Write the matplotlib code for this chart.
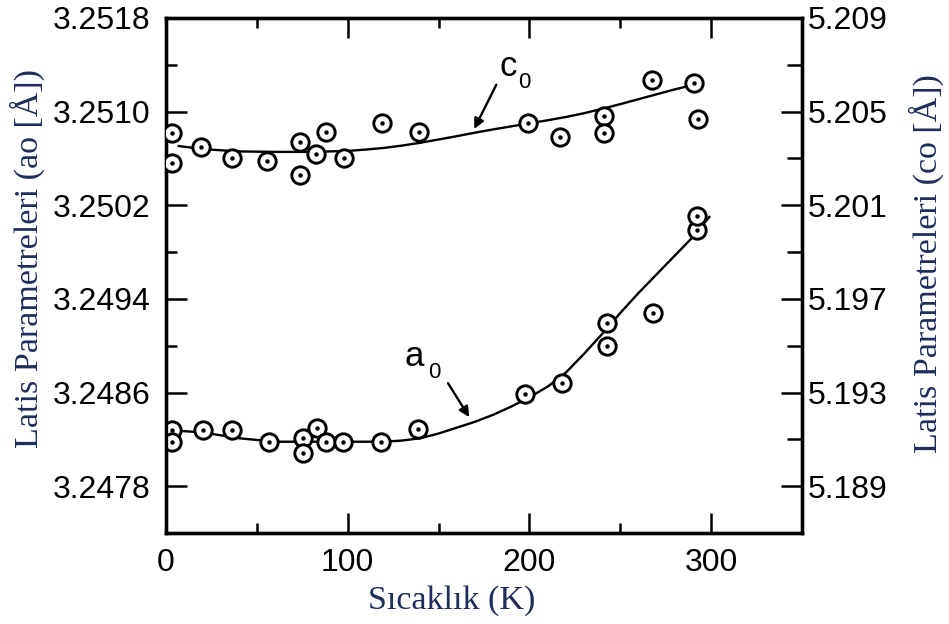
import matplotlib
matplotlib.use("Agg")
from matplotlib import pyplot as plt
from matplotlib.ticker import MultipleLocator, FormatStrFormatter

# measured points, a0 (left axis)
a_T = [3.1, 3.1, 20.1, 36.3, 56.5, 75.5, 75.5, 82.9, 88.2, 97.6, 118.5, 138.5,
       197.4, 217.7, 242.5, 242.5, 268.0, 292.0, 292.0]
a_val = [3.24828, 3.24818, 3.24828, 3.24828, 3.24818, 3.24821, 3.24808, 3.24830,
         3.24818, 3.24818, 3.24818, 3.24829, 3.24859, 3.24868, 3.24900, 3.24919,
         3.24928, 3.24999, 3.25011]

# measured points, c0 (right axis)
c_T = [3.1, 3.1, 19.2, 36.3, 55.6, 73.6, 73.6, 82.3, 88.2, 98.0, 119.0, 139.0,
       199.4, 216.6, 240.9, 240.9, 267.4, 290.4, 292.8]
c_val = [5.20407, 5.20279, 5.20350, 5.20300, 5.20290, 5.20371, 5.20228, 5.20321,
         5.20412, 5.20300, 5.20451, 5.20412, 5.20450, 5.20391, 5.20480, 5.20407,
         5.20633, 5.20624, 5.20470]

# fitted curves
a_fit_T = [0, 20, 40, 60, 80, 100, 120, 130, 140, 150, 160, 170, 180, 190, 200,
           210, 220, 230, 240, 250, 260, 270, 280, 290, 299]
a_fit = [3.24828, 3.24826, 3.24821, 3.24818, 3.24818, 3.24818, 3.24818, 3.24819,
         3.24821, 3.24825, 3.24830, 3.24835, 3.24841, 3.24848, 3.24856, 3.24865,
         3.24877, 3.24893, 3.24910, 3.24928, 3.24945, 3.24961, 3.24977, 3.24993,
         3.25010]

c_fit_T = [7, 20, 40, 60, 80, 100, 110, 120, 130, 140, 150, 160, 170, 180, 190,
           200, 210, 220, 230, 240, 250, 260, 270, 280, 288]
c_fit = [5.20353, 5.20340, 5.20330, 5.20328, 5.20328, 5.20332, 5.20338, 5.20345,
         5.20355, 5.20367, 5.20381, 5.20395, 5.20410, 5.20424, 5.20437, 5.20450,
         5.20463, 5.20477, 5.20493, 5.20512, 5.20532, 5.20553, 5.20574, 5.20595,
         5.20610]

label_color = '#1f2d5c'
serif = ['Liberation Serif', 'DejaVu Serif']
sans = ['Liberation Sans', 'DejaVu Sans']
plt.rcParams['font.family'] = sans

fig = plt.figure(figsize=(9.49, 6.24), dpi=100)
ax = fig.add_axes([0.1749, 0.1458, 0.6702, 0.8254])
ax2 = ax.twinx()

ax.plot(a_fit_T, a_fit, color='black', lw=1.7, zorder=2)
ax.plot(a_T, a_val, ls='none', marker='o', ms=12.5, mfc='white', mec='black', mew=2.1, zorder=3)
ax.plot(a_T, a_val, ls='none', marker='o', ms=2.2, color='black', zorder=4)

ax2.plot(c_fit_T, c_fit, color='black', lw=1.7, zorder=2)
ax2.plot(c_T, c_val, ls='none', marker='o', ms=12.5, mfc='white', mec='black', mew=2.1, zorder=3)
ax2.plot(c_T, c_val, ls='none', marker='o', ms=2.2, color='black', zorder=4)

ax.set_xlim(0, 350)
ax.set_ylim(3.2474, 3.2518)
ax2.set_ylim(5.187, 5.209)

ax.xaxis.set_major_locator(MultipleLocator(100))
ax.xaxis.set_minor_locator(MultipleLocator(50))
ax.set_yticks([3.2478, 3.2486, 3.2494, 3.2502, 3.2510, 3.2518])
ax.set_yticks([3.2482, 3.2490, 3.2498, 3.2506, 3.2514], minor=True)
ax.yaxis.set_major_formatter(FormatStrFormatter('%.4f'))
ax2.set_yticks([5.189, 5.193, 5.197, 5.201, 5.205, 5.209])
ax2.set_yticks([5.191, 5.195, 5.199, 5.203, 5.207], minor=True)
ax2.yaxis.set_major_formatter(FormatStrFormatter('%.3f'))

for a in (ax, ax2):
    for s in a.spines.values():
        s.set_linewidth(2.4)

ax.tick_params(axis='x', which='both', direction='in', top=True, width=1.8,
               labelsize=23, pad=11)
ax.tick_params(axis='x', which='major', length=14.5)
ax.tick_params(axis='x', which='minor', length=7)
ax.tick_params(axis='y', which='both', direction='in', right=False, width=1.8,
               labelsize=23, pad=11)
ax.tick_params(axis='y', which='major', length=15)
ax.tick_params(axis='y', which='minor', length=8)
ax2.tick_params(axis='y', which='both', direction='in', width=1.8, labelsize=23, pad=4)
ax2.tick_params(axis='y', which='major', length=15)
ax2.tick_params(axis='y', which='minor', length=11)

ax.set_xlabel('Sıcaklık (K)', family=serif, fontsize=24.5, color=label_color)
ax.xaxis.set_label_coords(0.4763, 0.0369, transform=fig.transFigure)
ax.xaxis.label.set_va('center')
ax.set_ylabel('Latis Parametreleri (ao [Å])', family=serif, fontsize=24.5,
              color=label_color)
ax.yaxis.set_label_coords(0.0285, 0.585, transform=fig.transFigure)
ax.yaxis.label.set_va('center')
ax2.set_ylabel('Latis Parametreleri (co [Å])', family=serif, fontsize=24.5,
               color=label_color)
ax2.yaxis.set_label_coords(0.9758, 0.577, transform=fig.transFigure)
ax2.yaxis.label.set_va('center')

# curve labels with arrows
ax2.text(188.4, 5.20692, 'c', fontsize=25, ha='center', va='center')
ax2.text(197.2, 5.20623, '0', fontsize=16, ha='center', va='center')
ax2.annotate('', xy=(169.6, 5.20426), xytext=(181.8, 5.20615),
             arrowprops=dict(arrowstyle='-|>', color='black', lw=1.7,
                             mutation_scale=15, shrinkA=0, shrinkB=0))
ax.text(136.5, 3.24891, 'a', fontsize=25, ha='center', va='center')
ax.text(147.5, 3.24877, '0', fontsize=16, ha='center', va='center')
ax.annotate('', xy=(166.9, 3.24839), xytext=(155.2, 3.24868),
            arrowprops=dict(arrowstyle='-|>', color='black', lw=1.7,
                            mutation_scale=15, shrinkA=0, shrinkB=0))

fig.savefig('out.png', dpi=100)
